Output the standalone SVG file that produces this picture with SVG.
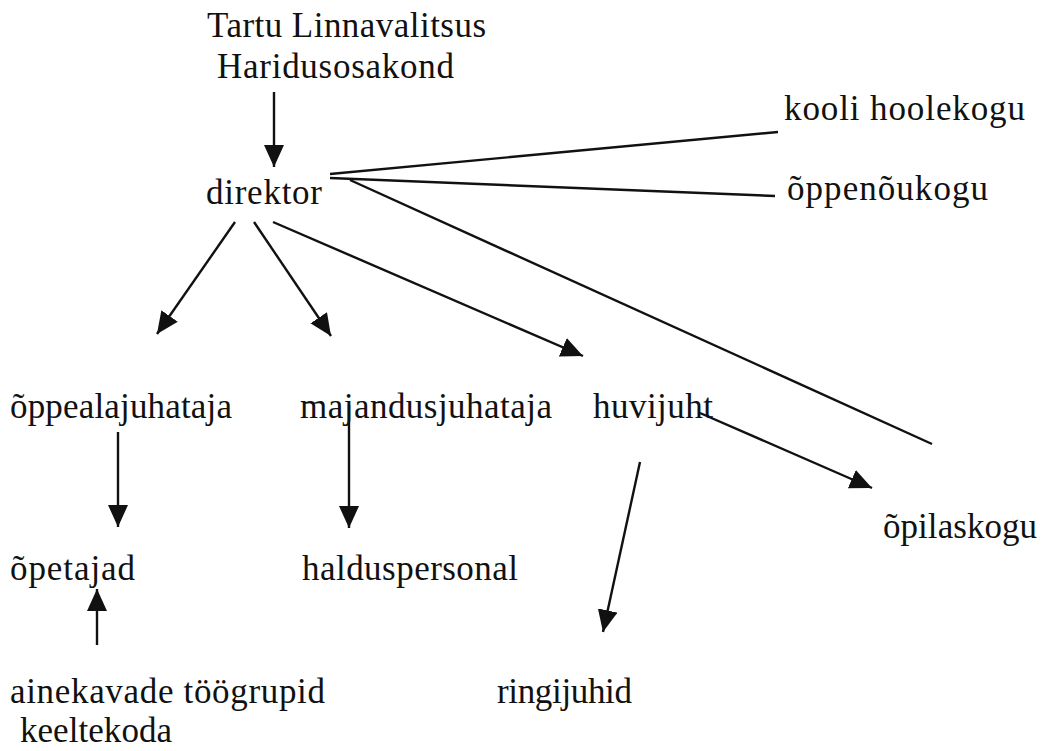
<svg xmlns="http://www.w3.org/2000/svg" width="1045" height="751" viewBox="0 0 1045 751">
<defs>
<style>
.c line{stroke:#111;stroke-width:2.4;fill:none;}
.a{marker-end:url(#ah);}
</style>
<marker id="ah" viewBox="0 0 22 20" refX="22" refY="10" markerWidth="22" markerHeight="20" markerUnits="userSpaceOnUse" orient="auto">
<path d="M0,0 L22,10 L0,20 z" fill="#111"/>
</marker>
</defs>
<rect width="1045" height="751" fill="#fff"/>
<g class="c" id="connectors">
<line class="a" x1="274" y1="92" x2="274" y2="167"/>
<line x1="330" y1="174" x2="778" y2="132"/>
<line x1="330" y1="178" x2="775" y2="196"/>
<line x1="350" y1="180" x2="932" y2="444"/>
<line class="a" x1="235" y1="222" x2="157" y2="334"/>
<line class="a" x1="254" y1="222" x2="331" y2="336"/>
<line class="a" x1="273" y1="222" x2="583" y2="356"/>
<line class="a" x1="700" y1="413" x2="872" y2="488"/>
<line class="a" x1="640" y1="462" x2="603" y2="632"/>
<line class="a" x1="118" y1="432" x2="118" y2="527"/>
<line class="a" x1="349" y1="405" x2="349" y2="528"/>
<line class="a" x1="97" y1="645" x2="97" y2="589"/>
</g>
<g font-family="Liberation Serif" font-size="35" fill="#111">
<g id="n-tartu"><text x="207" y="37" textLength="279">Tartu Linnavalitsus</text><text x="217" y="78" textLength="237">Haridusosakond</text></g>
<g id="n-direktor"><text x="206" y="204" textLength="116">direktor</text></g>
<g id="n-hoolekogu"><text x="784" y="120" textLength="241">kooli hoolekogu</text></g>
<g id="n-oppenoukogu"><text x="787" y="200" textLength="201">õppenõukogu</text></g>
<g id="n-oppealajuhataja"><text x="10" y="418" textLength="222">õppealajuhataja</text></g>
<g id="n-majandusjuhataja"><text x="300" y="418" textLength="252">majandusjuhataja</text></g>
<g id="n-huvijuht"><text x="593" y="418" textLength="120">huvijuht</text></g>
<g id="n-opilaskogu"><text x="883" y="538" textLength="154">õpilaskogu</text></g>
<g id="n-opetajad"><text x="10" y="580" textLength="125">õpetajad</text></g>
<g id="n-halduspersonal"><text x="302" y="580" textLength="216">halduspersonal</text></g>
<g id="n-ainekavade"><text x="10" y="703" textLength="315">ainekavade töögrupid</text><text x="20" y="742" textLength="152">keeltekoda</text></g>
<g id="n-ringijuhid"><text x="497" y="703" textLength="135">ringijuhid</text></g>
</g>
</svg>
